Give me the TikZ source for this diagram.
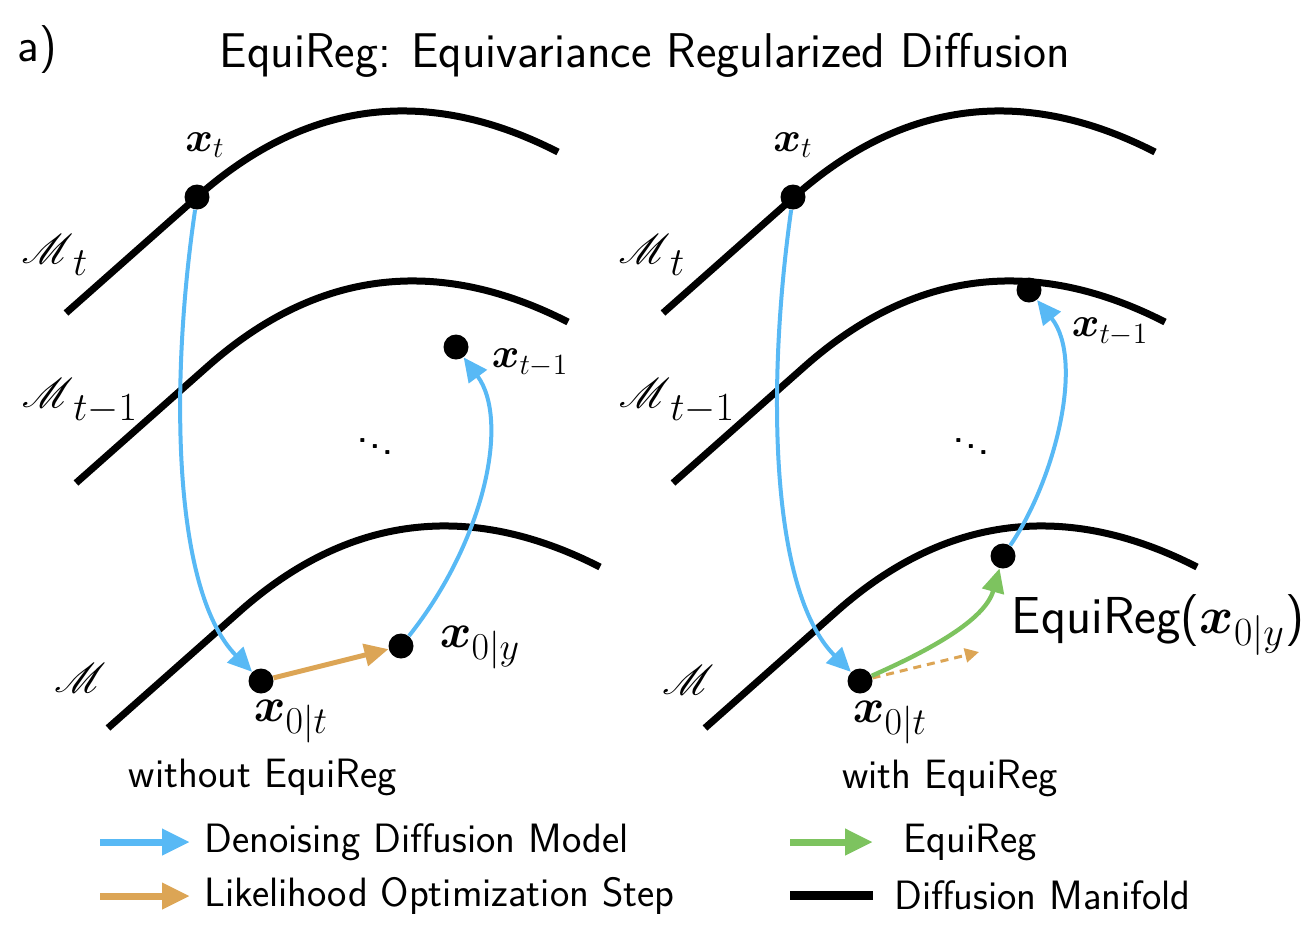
\RequirePackage{fix-cm}
\documentclass[tikz,border=0pt]{standalone}
\usepackage{amsmath}
\usepackage{mathrsfs}
\usepackage{fontspec}
\usetikzlibrary{arrows.meta}
\renewcommand{\familydefault}{\sfdefault}
\definecolor{ddmblue}{HTML}{58B9F5}
\definecolor{likorange}{HTML}{DCA555}
\definecolor{eqgreen}{HTML}{7DC35F}
\newcommand{\vx}{\boldsymbol{x}}
\newcommand{\lsub}[2][19]{_{\mbox{\fontsize{#1}{#1}\selectfont$#2$}}}
\newcommand{\msub}[1]{_{\raisebox{-3pt}{\fontsize{20}{20}\selectfont$\mkern3mu#1$}}}
\newcommand{\manifold}[2]{\draw[mfdline,shift={(#1,#2)}] (66,313) -- (197,197) .. controls (306,100) and (427,85) .. (558,152);}
\tikzset{
  mfdline/.style={line width=3.5pt},
  dot/.style={circle,fill,inner sep=0pt,minimum size=12.5pt},
  ddm/.style={color=ddmblue,line width=2pt,-{Triangle[length=12pt,width=11pt]}},
  lik/.style={color=likorange,line width=2.5pt,-{Triangle[length=12pt,width=11pt]}},
  likdash/.style={color=likorange,line width=1.5pt,dash pattern=on 4pt off 3pt,-{Triangle[length=7pt,width=7pt]}},
  equi/.style={color=eqgreen,line width=2.2pt,-{Triangle[length=12pt,width=11pt]}},
  mlab/.style={font=\fontsize{21}{25}\selectfont,inner sep=0pt},
  mlabz/.style={font=\fontsize{24}{28}\selectfont,inner sep=0pt},
  mfd/.style={font=\fontsize{22}{26}\selectfont,inner sep=0pt},
  sub/.style={font=\fontsize{20.5}{24}\selectfont,inner sep=0pt},
  legarrow/.style={line width=3.5pt,-{Triangle[length=14pt,width=12.5pt]}}
}

\begin{document}
\begin{tikzpicture}[x=0.5pt,y=-0.5pt]
\useasboundingbox (0,0) rectangle (1308,934);
\node[font=\fontsize{24}{28}\selectfont,inner sep=0pt] (panel) at (37,50) {a)};
\node[font=\fontsize{24.4}{28}\selectfont,inner sep=0pt] (title) at (645,55) {EquiReg: Equivariance Regularized Diffusion};

% manifolds, left and right
\manifold{0}{0}
\manifold{10}{170}
\manifold{42}{415}
\manifold{597}{0}
\manifold{607}{170}
\manifold{639}{415}

\node[mfd] (mtl) at (55,255) {$\mathscr{M}\msub{t}$};
\node[mfd] (mtml) at (80,401) {$\mathscr{M}\msub{t{-}1}$};
\node[mfd] (ml) at (80,678) {$\mathscr{M}$};
\node[mfd] (mtr) at (652,255) {$\mathscr{M}\msub{t}$};
\node[mfd] (mtmr) at (677,401) {$\mathscr{M}\msub{t{-}1}$};
\node[mfd] (mr) at (688,680) {$\mathscr{M}$};

\node[font=\fontsize{15}{18}\selectfont\bfseries] at (375,441) {$\ddots$};
\node[font=\fontsize{15}{18}\selectfont\bfseries] at (971,441) {$\ddots$};

% without EquiReg
\node[dot] (xtl) at (197,197) {};
\node[dot] (xtml) at (456,347) {};
\node[dot] (xztl) at (261,681) {};
\node[dot] (xzyl) at (401,646) {};
\node[mlab] at (205,145) {$\vx_t$};
\node[mlab] at (530,363) {$\vx_{t-1}$};
\node[mlabz] at (291,722) {$\vx\lsub{0|t}$};
\node[mlabz] at (480,648) {$\vx\lsub{0|y}$};
\draw[ddm] (xtl) .. controls (170,380) and (172,590) .. (xztl);
\draw[lik] (xztl) -- (xzyl);
\draw[ddm] (xzyl) .. controls (485,540) and (510,420) .. (xtml);
\node[sub] (wo) at (263,777) {without EquiReg};

% with EquiReg
\node[dot] (xtr) at (793,197) {};
\node[dot] (xtmr) at (1029,290) {};
\node[dot] (xztr) at (860,681) {};
\node[dot] (eqy) at (1003,556) {};
\coordinate (likend) at (979,652);
\node[mlab] at (793,145) {$\vx_t$};
\node[mlab] at (1110,332) {$\vx_{t-1}$};
\node[mlabz] at (890,723) {$\vx\lsub{0|t}$};
\node[font=\fontsize{26}{30}\selectfont,inner sep=0pt] at (1158,625) {EquiReg($\vx\lsub[20]{0|y}$)};
\draw[ddm] (xtr) .. controls (767,380) and (769,590) .. (xztr);
\draw[likdash] (xztr) -- (likend);
\draw[equi] (xztr) .. controls (930,650) and (985,620) .. (eqy);
\draw[ddm] (eqy) .. controls (1055,480) and (1085,360) .. (xtmr);
\node[sub] (wi) at (950,778) {with EquiReg};

% legend
\node[sub,anchor=west] (lgddm) at (204,842) {Denoising Diffusion Model};
\node[sub,anchor=west] (lglik) at (204,896) {Likelihood Optimization Step};
\node[sub,anchor=west] (lgeq) at (903,842) {EquiReg};
\node[sub,anchor=west] (lgmfd) at (894,895) {Diffusion Manifold};
\coordinate (lgddm0) at (100,842);
\coordinate (lglik0) at (100,896);
\coordinate (lgeq0) at (790,842);
\coordinate (lgmfd0) at (790,895);
\draw[legarrow,ddmblue] (lgddm0) -- ([xshift=-7pt]lgddm.west);
\draw[legarrow,likorange] (lglik0) -- ([xshift=-7pt]lglik.west);
\draw[legarrow,eqgreen] (lgeq0) -- ([xshift=-15pt]lgeq.west);
\draw[line width=4.5pt] (lgmfd0) -- ([xshift=-10.5pt]lgmfd.west);
\end{tikzpicture}
\end{document}
